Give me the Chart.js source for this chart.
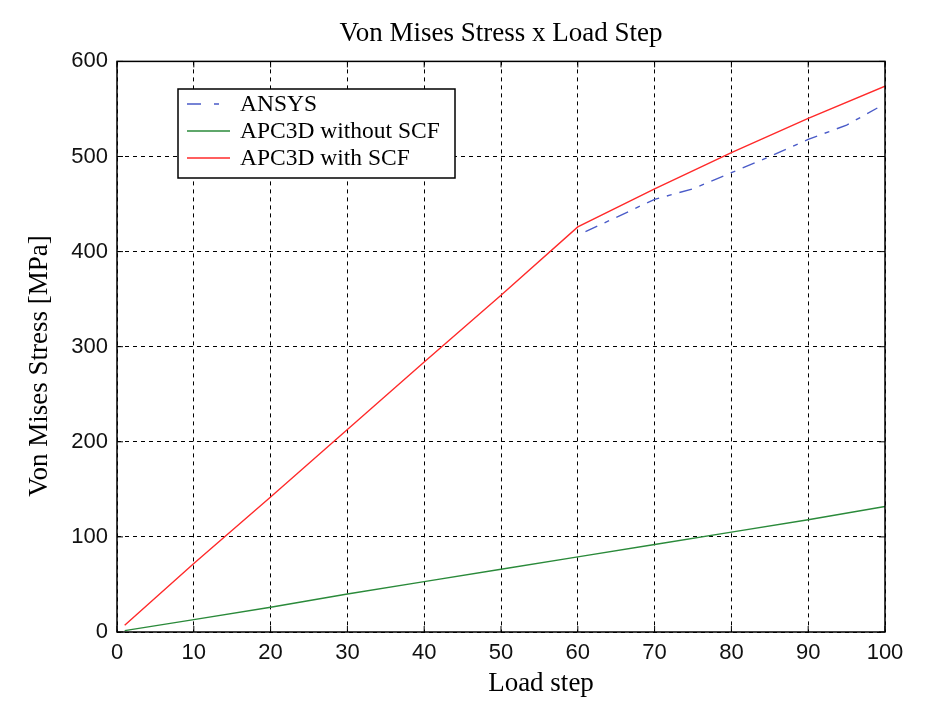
<!DOCTYPE html>
<html>
<head>
<meta charset="utf-8">
<script src="https://cdn.jsdelivr.net/npm/chart.js@4.4.1/dist/chart.umd.min.js"></script>
<style>
  html, body { margin: 0; padding: 0; background: #fff; }
  #wrap { width: 932px; height: 716px; }
</style>
</head>
<body>
<div id="wrap"><canvas id="stressChart"></canvas></div>
<script>
// values (load step -> von Mises stress, MPa)
const redSteps = [1, 10, 20, 30, 40, 50, 60, 70, 80, 90, 100];
const redStress = [7, 72, 142, 213, 284, 354, 426, 466, 504, 540, 574];

const greenSteps = [1, 10, 20, 30, 40, 50, 60, 70, 80, 90, 100];
const greenStress = [1.5, 13, 26, 40, 53, 66, 79, 92, 105, 118, 132];

const blueSteps = [61, 65, 70, 75, 80, 85, 90, 95, 99];
const blueStress = [421, 436, 455, 466, 483, 500, 518, 533, 551];

const xTicks = [0, 10, 20, 30, 40, 50, 60, 70, 80, 90, 100];
const yTicks = [0, 100, 200, 300, 400, 500, 600];

const seriesLabels = ['ANSYS', 'APC3D without SCF', 'APC3D with SCF'];

const SERIF = '"Liberation Serif", "Times New Roman", serif';
const SANS = '"Liberation Sans", Arial, sans-serif';

function toPoints(xs, ys) {
  return xs.map((x, i) => ({ x, y: ys[i] }));
}

// box, inward ticks, axis labels and legend in matlab style
const matlabFrame = {
  id: 'matlabFrame',
  afterDraw(chart) {
    const { ctx, chartArea: a, scales } = chart;
    ctx.save();
    ctx.strokeStyle = '#000';
    ctx.lineWidth = 1.5;
    ctx.setLineDash([]);
    ctx.strokeRect(a.left, a.top, a.right - a.left, a.bottom - a.top);

    ctx.lineWidth = 1;
    const tl = 6;
    xTicks.forEach(v => {
      const px = scales.x.getPixelForValue(v);
      ctx.beginPath();
      ctx.moveTo(px, a.bottom); ctx.lineTo(px, a.bottom - tl);
      ctx.moveTo(px, a.top); ctx.lineTo(px, a.top + tl);
      ctx.stroke();
    });
    yTicks.forEach(v => {
      const py = scales.y.getPixelForValue(v);
      ctx.beginPath();
      ctx.moveTo(a.left, py); ctx.lineTo(a.left + tl, py);
      ctx.moveTo(a.right, py); ctx.lineTo(a.right - tl, py);
      ctx.stroke();
    });

    // axis labels
    ctx.fillStyle = '#000';
    ctx.font = '27px ' + SERIF;
    ctx.textAlign = 'center';
    ctx.textBaseline = 'middle';
    ctx.fillText('Load step', 541, 684);
    ctx.save();
    ctx.translate(40, 366);
    ctx.rotate(-Math.PI / 2);
    ctx.fillText('Von Mises Stress [MPa]', 0, 0);
    ctx.restore();

    // legend box
    const lx = 178, ly = 89, lw = 277, lh = 89;
    ctx.fillStyle = '#fff';
    ctx.fillRect(lx, ly, lw, lh);
    ctx.lineWidth = 1.5;
    ctx.strokeStyle = '#000';
    ctx.strokeRect(lx, ly, lw, lh);
    ctx.font = '23.5px ' + SERIF;
    ctx.textAlign = 'left';
    chart.data.datasets.forEach((ds, i) => {
      const y = ly + 15 + i * 27;
      ctx.strokeStyle = ds.borderColor;
      ctx.lineWidth = ds.borderWidth;
      ctx.setLineDash(ds.legendDash || []);
      ctx.beginPath();
      ctx.moveTo(lx + 9, y);
      ctx.lineTo(lx + 52, y);
      ctx.stroke();
      ctx.setLineDash([]);
      ctx.fillStyle = '#000';
      ctx.fillText(ds.label, lx + 62, y + 1);
    });
    ctx.restore();
  }
};

const ctx = document.getElementById('stressChart').getContext('2d');
new Chart(ctx, {
  type: 'line',
  data: {
    datasets: [
      {
        label: seriesLabels[0],
        data: toPoints(blueSteps, blueStress),
        borderColor: '#4a5bc8',
        borderWidth: 1.4,
        borderDash: [13, 8, 5, 8],
        legendDash: [14, 13, 5, 20],
        pointRadius: 0,
        tension: 0
      },
      {
        label: seriesLabels[1],
        data: toPoints(greenSteps, greenStress),
        borderColor: '#2a8a3a',
        borderWidth: 1.4,
        pointRadius: 0,
        tension: 0
      },
      {
        label: seriesLabels[2],
        data: toPoints(redSteps, redStress),
        borderColor: '#ff2a2a',
        borderWidth: 1.4,
        pointRadius: 0,
        tension: 0
      }
    ]
  },
  options: {
    responsive: true,
    maintainAspectRatio: false,
    animation: false,
    layout: { padding: { left: 0, right: 47, top: 0, bottom: 0 } },
    plugins: {
      legend: { display: false },
      tooltip: { enabled: false },
      title: {
        display: true,
        fullSize: false,
        text: 'Von Mises Stress x Load Step',
        color: '#000',
        font: { family: SERIF, size: 27, weight: 'normal' },
        padding: { top: 18, bottom: 11 }
      }
    },
    scales: {
      x: {
        type: 'linear',
        min: 0,
        max: 100,
        afterBuildTicks: s => { s.ticks = xTicks.map(v => ({ value: v })); },
        afterFit: s => { s.height = 84; },
        ticks: {
          color: '#111',
          font: { family: SANS, size: 22 },
          padding: 8,
          maxRotation: 0
        },
        grid: { color: '#000', lineWidth: 1, drawTicks: false },
        border: { display: false, dash: [4, 4] }
      },
      y: {
        min: 0,
        max: 600,
        afterBuildTicks: s => { s.ticks = yTicks.map(v => ({ value: v })); },
        afterFit: s => { s.width = 117; },
        ticks: {
          color: '#111',
          font: { family: SANS, size: 22 },
          padding: 9
        },
        grid: { color: '#000', lineWidth: 1, drawTicks: false },
        border: { display: false, dash: [4, 4] }
      }
    }
  },
  plugins: [matlabFrame]
});
</script>
</body>
</html>
